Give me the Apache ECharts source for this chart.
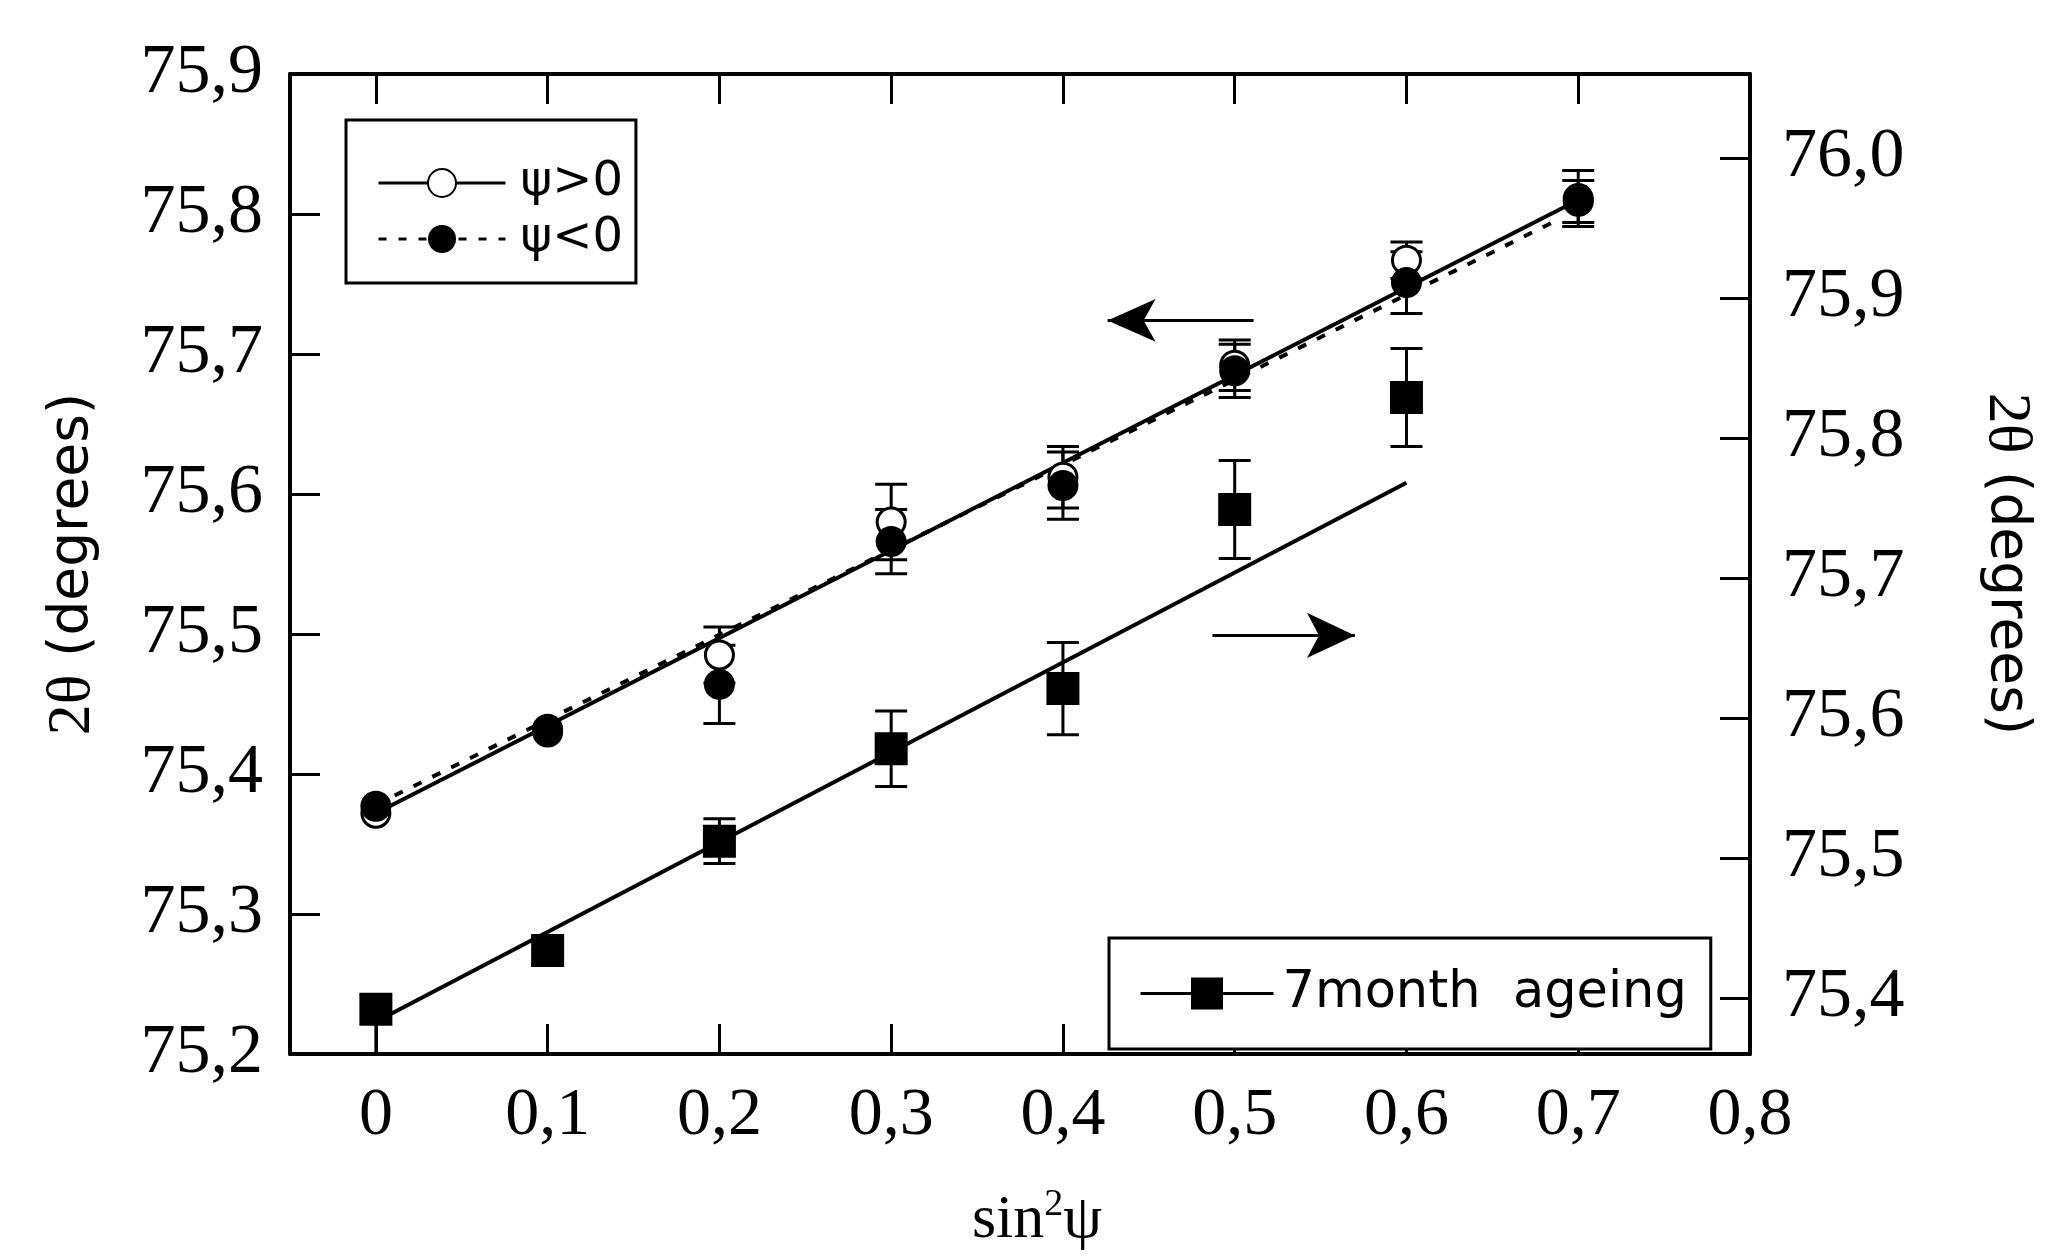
<!DOCTYPE html>
<html><head><meta charset="utf-8">
<script src="https://cdn.jsdelivr.net/npm/echarts@6/dist/echarts.min.js"></script>
<style>html,body{margin:0;padding:0;background:#fff}#c{width:2045px;height:1257px}</style>
</head><body><div id="c"></div>
<script>
// ---- data ----
const sin2psi = [0, 0.1, 0.2, 0.3, 0.4, 0.5, 0.6, 0.7];
const psiPos = [75.372, 75.432, 75.485, 75.580, 75.612, 75.692, 75.767, 75.811];
const psiPosErr = [0, 0, 0.020, 0.027, 0.022, 0.018, 0.013, 0.020];
const psiNeg = [75.377, 75.430, 75.464, 75.566, 75.606, 75.688, 75.751, 75.809];
const psiNegErr = [0, 0, 0.028, 0.023, 0.024, 0.019, 0.022, 0.015];
const agedX = [0, 0.1, 0.2, 0.3, 0.4, 0.5, 0.6];
const aged = [75.392, 75.434, 75.512, 75.578, 75.621, 75.749, 75.829];
const agedErrLow = [0.032, 0.010, 0.016, 0.027, 0.033, 0.035, 0.035];
const agedErrHigh = [0.010, 0.010, 0.016, 0.027, 0.033, 0.035, 0.035];
const fitPos = [[0, 75.372], [0.7, 75.81]];
const fitNeg = [[0, 75.378], [0.69, 75.797]];
const fitAged = [[0, 75.383], [0.6, 75.768]];
const arrowLeft = [[0.511, 75.724], [0.426, 75.724]];    // left axis units
const arrowRight = [[0.487, 75.659], [0.570, 75.659]];   // right axis units
const xTicks = [0, 0.1, 0.2, 0.3, 0.4, 0.5, 0.6, 0.7, 0.8];
const leftTicks = [75.2, 75.3, 75.4, 75.5, 75.6, 75.7, 75.8, 75.9];
const rightTicks = [75.4, 75.5, 75.6, 75.7, 75.8, 75.9, 76.0];
const nameP = 'ψ>0', nameN = 'ψ<0', nameA = '7month  ageing';

const fmt = v => (Math.abs(v) < 1e-9 ? '0' : v.toFixed(1).replace('.', ','));
const pts = (xs, ys) => xs.map((x, i) => [x, ys[i]]);
const errs = (xs, ys, lo, hi) => xs.map((x, i) => [x, ys[i] - lo[i], ys[i] + hi[i]]).filter((d, i) => lo[i] > 0 || hi[i] > 0);

const serif = 'Liberation Serif';
const sans = 'DejaVu Sans';
const axisLine = { show: true, onZero: false, lineStyle: { color: '#000', width: 4 } };
const tick = vals => ({ show: true, inside: true, length: 30, customValues: vals, lineStyle: { color: '#000', width: 3 } });
const titleRich = {
  a: { fontFamily: serif, fontSize: 62, color: '#000' },
  b: { fontFamily: sans, fontSize: 55, color: '#000' }
};

function errRender(params, api) {
  const x = api.value(0), lo = api.value(1), hi = api.value(2);
  const p1 = api.coord([x, lo]), p2 = api.coord([x, hi]);
  const hw = 16;
  const style = { stroke: '#000', lineWidth: 3 };
  return { type: 'group', children: [
    { type: 'line', shape: { x1: p1[0], y1: p1[1], x2: p2[0], y2: p2[1] }, style },
    { type: 'line', shape: { x1: p1[0] - hw, y1: p1[1], x2: p1[0] + hw, y2: p1[1] }, style },
    { type: 'line', shape: { x1: p2[0] - hw, y1: p2[1], x2: p2[0] + hw, y2: p2[1] }, style }
  ]};
}

const chart = echarts.init(document.getElementById('c'));
chart.setOption({
  backgroundColor: '#fff',
  animation: false,
  grid: { left: 290, right: 283, top: 74, bottom: 174, containLabel: false },
  xAxis: [
    { type: 'value', min: -0.05, max: 0.8, position: 'bottom', splitLine: { show: false },
      axisLine, axisTick: tick(xTicks),
      axisLabel: { customValues: xTicks, formatter: fmt, margin: 28, color: '#000', fontFamily: serif, fontSize: 68 },
      name: '{a|sin}{s|2}{a|ψ}', nameLocation: 'middle', nameGap: 132,
      nameTextStyle: { padding: [0, 0, 0, 34], rich: {
        a: { fontFamily: serif, fontSize: 62, color: '#000', lineHeight: 70 },
        s: { fontFamily: serif, fontSize: 38, color: '#000', lineHeight: 70, verticalAlign: 'top' } } } },
    { type: 'value', min: -0.05, max: 0.8, position: 'top', splitLine: { show: false },
      axisLine, axisTick: tick(xTicks), axisLabel: { show: false } }
  ],
  yAxis: [
    { type: 'value', min: 75.2, max: 75.9, position: 'left', splitLine: { show: false },
      axisLine, axisTick: tick(leftTicks),
      axisLabel: { customValues: leftTicks, formatter: fmt, margin: 27, color: '#000', fontFamily: serif, fontSize: 70, padding: [0, 0, 28, 0] },
      name: '{a|2θ}{b| (degrees)}', nameLocation: 'middle', nameGap: 186,
      nameTextStyle: { rich: titleRich } },
    { type: 'value', min: 75.36, max: 76.06, position: 'right', splitLine: { show: false },
      axisLine, axisTick: tick(rightTicks),
      axisLabel: { customValues: rightTicks, formatter: fmt, margin: 32, color: '#000', fontFamily: serif, fontSize: 70 },
      name: '{a|2θ}{b| (degrees)}', nameLocation: 'middle', nameGap: 225, nameRotate: -90,
      nameTextStyle: { padding: [0, 0, 0, 0], rich: titleRich } }
  ],
  legend: [
    { orient: 'vertical', left: 346, top: 120, selectedMode: false,
      padding: [39, 13, 20, 31], itemGap: 8, itemWidth: 127, itemHeight: 35,
      borderColor: '#000', borderWidth: 3, backgroundColor: '#fff',
      textStyle: { fontFamily: sans, fontSize: 48, color: '#000', padding: [0, 0, 0, 10] },
      data: [
        { name: nameP, lineStyle: { color: '#000', width: 3, type: 'solid', opacity: 1 } },
        { name: nameN, lineStyle: { color: '#000', width: 3, type: [8, 12], opacity: 1 } }
      ] },
    { orient: 'horizontal', left: 1109, top: 938, selectedMode: false,
      padding: [30, 24, 30, 30], itemWidth: 133, itemHeight: 40,
      borderColor: '#000', borderWidth: 3, backgroundColor: '#fff',
      textStyle: { fontFamily: sans, fontSize: 51, color: '#000', padding: [0, 0, 0, 4] },
      data: [ { name: nameA, lineStyle: { color: '#000', width: 3, type: 'solid', opacity: 1 } } ] }
  ],
  series: [
    { type: 'custom', name: 'errP', renderItem: errRender, xAxisIndex: 0, yAxisIndex: 0, z: 1,
      encode: { x: 0, y: [1, 2] }, data: errs(sin2psi, psiPos, psiPosErr, psiPosErr) },
    { type: 'custom', name: 'errN', renderItem: errRender, xAxisIndex: 0, yAxisIndex: 0, z: 1,
      encode: { x: 0, y: [1, 2] }, data: errs(sin2psi, psiNeg, psiNegErr, psiNegErr) },
    { type: 'custom', name: 'errA', renderItem: errRender, xAxisIndex: 0, yAxisIndex: 1, z: 1,
      encode: { x: 0, y: [1, 2] }, data: errs(agedX, aged, agedErrLow, agedErrHigh) },
    { type: 'line', name: 'fitP', xAxisIndex: 0, yAxisIndex: 0, z: 2, showSymbol: false, symbol: 'none',
      lineStyle: { color: '#000', width: 4 }, data: fitPos,
      markLine: { silent: true, symbol: ['none', 'arrow'], symbolSize: [32, 48], label: { show: false },
        lineStyle: { color: '#000', width: 3, type: 'solid' },
        data: [ [ { coord: arrowLeft[0] }, { coord: arrowLeft[1] } ] ] } },
    { type: 'line', name: 'fitN', xAxisIndex: 0, yAxisIndex: 0, z: 2, showSymbol: false, symbol: 'none',
      lineStyle: { color: '#000', width: 4, type: [9, 12] }, data: fitNeg },
    { type: 'line', name: 'fitA', xAxisIndex: 0, yAxisIndex: 1, z: 2, showSymbol: false, symbol: 'none',
      lineStyle: { color: '#000', width: 4 }, data: fitAged,
      markLine: { silent: true, symbol: ['none', 'arrow'], symbolSize: [34, 48], label: { show: false },
        lineStyle: { color: '#000', width: 3, type: 'solid' },
        data: [ [ { coord: arrowRight[0] }, { coord: arrowRight[1] } ] ] } },
    { type: 'line', name: nameP, xAxisIndex: 0, yAxisIndex: 0, z: 3, symbol: 'circle', symbolSize: 28,
      lineStyle: { opacity: 0 }, itemStyle: { color: '#fff', borderColor: '#000', borderWidth: 3 },
      data: pts(sin2psi, psiPos) },
    { type: 'line', name: nameN, xAxisIndex: 0, yAxisIndex: 0, z: 4, symbol: 'circle', symbolSize: 31,
      lineStyle: { opacity: 0 }, itemStyle: { color: '#000', borderColor: '#000', borderWidth: 0 },
      data: pts(sin2psi, psiNeg) },
    { type: 'line', name: nameA, xAxisIndex: 0, yAxisIndex: 1, z: 3, symbol: 'rect', symbolSize: 33,
      lineStyle: { opacity: 0 }, itemStyle: { color: '#000', borderWidth: 0 },
      data: pts(agedX, aged) }
  ]
});
</script>
</body></html>
